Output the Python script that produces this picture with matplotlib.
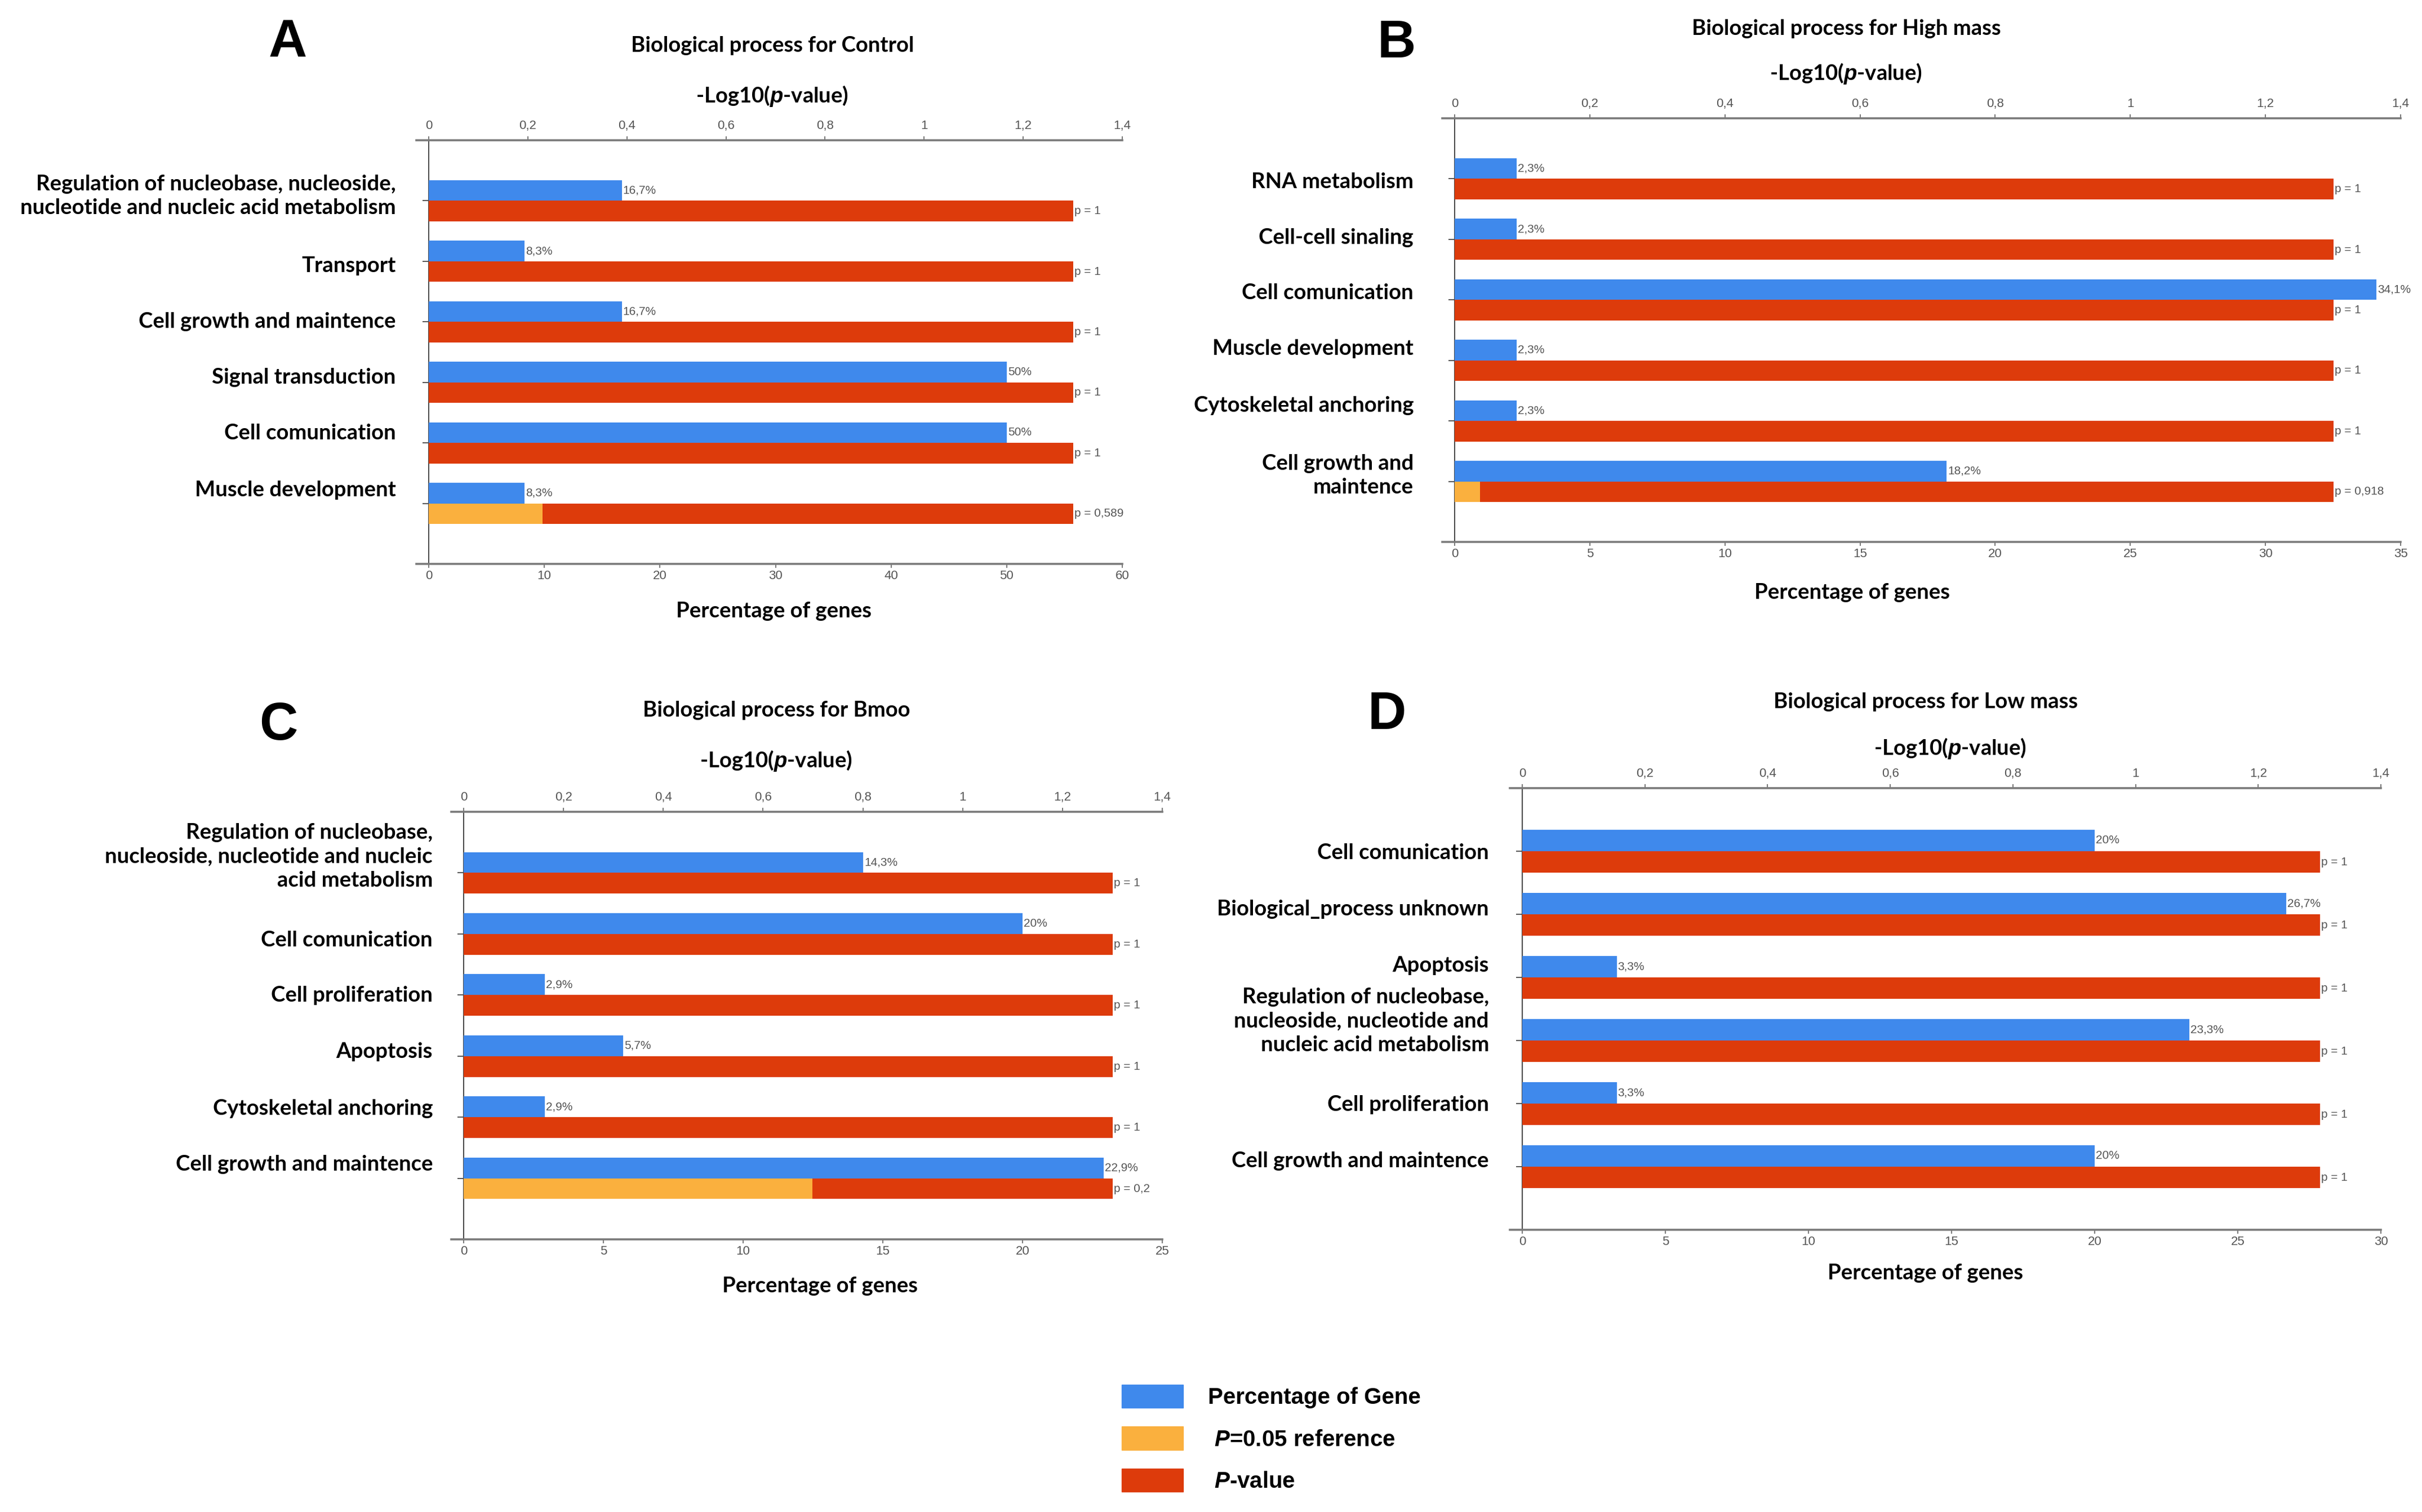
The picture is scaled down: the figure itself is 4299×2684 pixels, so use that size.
import matplotlib
matplotlib.use('Agg')
import matplotlib.pyplot as plt
from matplotlib.patches import Patch
from matplotlib.ticker import FuncFormatter
import numpy as np

W, H = 4299, 2684
plt.rcParams['font.family'] = ['Lato', 'DejaVu Sans']
plt.rcParams['mathtext.fontset'] = 'custom'
plt.rcParams['mathtext.it'] = 'Lato:italic:bold'
plt.rcParams['mathtext.rm'] = 'Lato:bold'

BLUE = '#3F89EC'
ORANGE = '#FAB03E'
RED = '#DD3B0B'
NARROW = ['Liberation Sans Narrow', 'DejaVu Sans Condensed', 'Liberation Sans', 'DejaVu Sans']

# ---- data (top to bottom in each panel) ----
control_terms = ['Regulation of nucleobase, nucleoside,\nnucleotide and nucleic acid metabolism',
                 'Transport', 'Cell growth and maintence', 'Signal transduction',
                 'Cell comunication', 'Muscle development']
control_pct = [16.7, 8.3, 16.7, 50, 50, 8.3]
control_p = [1, 1, 1, 1, 1, 0.589]

high_terms = ['RNA metabolism', 'Cell-cell sinaling', 'Cell comunication',
              'Muscle development', 'Cytoskeletal anchoring', 'Cell growth and\nmaintence']
high_pct = [2.3, 2.3, 34.1, 2.3, 2.3, 18.2]
high_p = [1, 1, 1, 1, 1, 0.918]

bmoo_terms = ['Regulation of nucleobase,\nnucleoside, nucleotide and nucleic\nacid metabolism',
              'Cell comunication', 'Cell proliferation', 'Apoptosis',
              'Cytoskeletal anchoring', 'Cell growth and maintence']
bmoo_pct = [14.3, 20, 2.9, 5.7, 2.9, 22.9]
bmoo_p = [1, 1, 1, 1, 1, 0.2]

low_terms = ['Cell comunication', 'Biological_process unknown', 'Apoptosis',
             'Regulation of nucleobase,\nnucleoside, nucleotide and\nnucleic acid metabolism',
             'Cell proliferation', 'Cell growth and maintence']
low_pct = [20, 26.7, 3.3, 23.3, 3.3, 20]
low_p = [1, 1, 1, 1, 1, 1]

P_REF = 0.05

fig = plt.figure(figsize=(W / 100, H / 100), dpi=100)


def comma(v):
    return f'{v:g}'.replace('.', ',')


def px_text(x, y, s, **kw):
    fig.text(x / W, 1 - y / H, s, **kw)


def draw_panel(box, letter, letter_xy, title, title_xy, log_xy, xlab_xy,
               terms, pct, pvals, pct_max, pct_step, lab_pad, lab_y):
    l, t, r, b = box
    ext = 22  # axis lines run a little past the left spine
    ax = fig.add_axes([(l - ext) / W, 1 - b / H, (r - l + ext) / W, (b - t) / H])
    top = ax.twiny()
    frac = ext / (r - l)
    y = np.arange(len(terms))
    h = 0.34
    ref = -np.log10(P_REF)
    logp = -np.log10(np.array(pvals, dtype=float))

    ax.barh(y - h / 2, pct, height=h, color=BLUE, linewidth=0, zorder=3)
    top.barh(y + h / 2, logp, height=h, color=ORANGE, linewidth=0, zorder=3)
    top.barh(y + h / 2, ref - logp, left=logp, height=h, color=RED, linewidth=0, zorder=3)

    for yi, v in zip(y, pct):
        ax.annotate(comma(v) + '%', (v, yi - h / 2), xytext=(1.5, 0), textcoords='offset points',
                    va='center', ha='left', fontsize=15, color='#555555', family=NARROW)
    for yi, p in zip(y, pvals):
        top.annotate('p = ' + comma(p), (ref, yi + h / 2), xytext=(1.5, 0), textcoords='offset points',
                     va='center', ha='left', fontsize=15, color='#555555', family=NARROW)
    # category names sit slightly off their ticks, as in the source figure
    for ly, term in zip(lab_y, terms):
        ax.annotate(term, (0, ly), xytext=(-lab_pad, 0), textcoords='offset points',
                    va='center', ha='right', fontsize=27.5, fontweight='bold', linespacing=1.3)

    ax.set_xlim(-frac * pct_max, pct_max)
    top.set_xlim(-frac * 1.4, 1.4)
    ax.set_ylim(len(terms), -1)

    ax.set_xticks(np.arange(0, pct_max + 0.1, pct_step))
    top.set_xticks(np.arange(0, 1.41, 0.2))
    top.xaxis.set_major_formatter(FuncFormatter(lambda v, _: comma(round(v, 1))))
    ax.set_yticks(y)
    ax.set_yticklabels([])

    ax.spines['left'].set_position(('data', 0))
    ax.spines['left'].set_color('#444444')
    ax.spines['left'].set_linewidth(1.4)
    ax.spines['bottom'].set_color('#7a7a7a')
    ax.spines['bottom'].set_linewidth(2.6)
    for s in ['top', 'right']:
        ax.spines[s].set_visible(False)
    for s in ['bottom', 'left', 'right']:
        top.spines[s].set_visible(False)
    top.spines['top'].set_color('#7a7a7a')
    top.spines['top'].set_linewidth(2.6)

    ax.tick_params(axis='y', length=8, width=1.4, color='#555555')
    ax.tick_params(axis='x', length=5, width=1.4, color='#777777', labelcolor='#555555',
                   labelsize=16, pad=3)
    top.tick_params(axis='x', length=5, width=1.4, color='#777777', labelcolor='#555555',
                    labelsize=16, pad=6)
    for lbl in ax.get_xticklabels() + top.get_xticklabels():
        lbl.set_fontfamily(NARROW)

    px_text(*letter_xy, letter, fontsize=68, fontweight='bold', family=['Liberation Sans', 'DejaVu Sans'],
            ha='center', va='center')
    px_text(*title_xy, title, fontsize=27.5, fontweight='bold', ha='center', va='center')
    px_text(*log_xy, r'-Log10($\it{p}$-value)', fontsize=27.5, fontweight='bold', ha='center', va='center')
    px_text(*xlab_xy, 'Percentage of genes', fontsize=27.5, fontweight='bold', ha='center', va='center')


draw_panel((761, 249, 1992, 1001), 'A', (511, 77), 'Biological process for Control', (1371, 81),
           (1371, 171), (1374, 1085), control_terms, control_pct, control_p, 60, 10, 42,
           [-0.08, 1.08, 2.0, 2.92, 3.84, 4.78])
draw_panel((2582, 210, 4261, 962), 'B', (2479, 77), 'Biological process for High mass', (3277, 51),
           (3277, 130), (3288, 1052), high_terms, high_pct, high_p, 35, 5, 52.5,
           [0.05, 0.97, 1.89, 2.81, 3.75, 4.90])
draw_panel((823, 1441, 2063, 2200), 'C', (494, 1288), 'Biological process for Bmoo', (1378, 1261),
           (1378, 1350), (1455, 2283), bmoo_terms, bmoo_pct, bmoo_p, 25, 5, 39.6,
           [-0.27, 1.10, 2.01, 2.93, 3.86, 4.77])
draw_panel((2702, 1399, 4226, 2183), 'D', (2462, 1269), 'Biological process for Low mass', (3418, 1246),
           (3462, 1328), (3418, 2260), low_terms, low_pct, low_p, 30, 5, 42.5,
           [0.03, 0.92, 1.81, 2.69, 4.02, 4.91])

handles = [Patch(color=BLUE), Patch(color=ORANGE), Patch(color=RED)]
labels = ['Percentage of Gene', r' $\it{P}$=0.05 reference', r' $\it{P}$-value']
plt.rcParams['mathtext.it'] = 'Liberation Sans:italic:bold'
plt.rcParams['mathtext.rm'] = 'Liberation Sans:bold'
fig.legend(handles, labels, loc='upper left', bbox_to_anchor=(1991 / W, 1 - 2458 / H),
           frameon=False, prop={'family': 'Liberation Sans', 'weight': 'bold', 'size': 29},
           handlelength=2.7, handleheight=1.2, labelspacing=0.8, handletextpad=1.1,
           borderpad=0, borderaxespad=0)

fig.savefig('out.png', dpi=100)
